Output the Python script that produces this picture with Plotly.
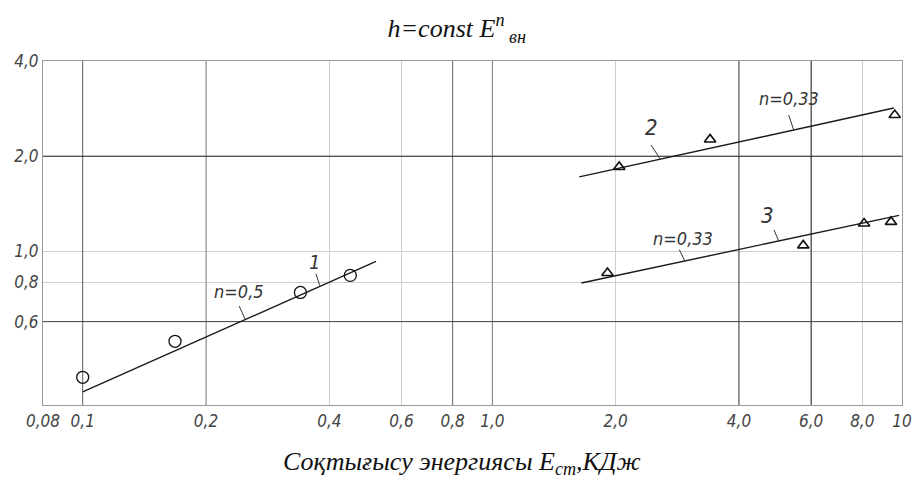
import numpy as np
import plotly.graph_objects as go

# ---------------- data ----------------
# Series 1 (circles)
s1_x = [0.10, 0.168, 0.340, 0.450]
s1_y = [0.40, 0.52, 0.742, 0.84]
fit1_x = [0.10, 0.52]
fit1_y = [0.36, 0.93]

# Series 2 (triangles, upper)
s2_x = [2.04, 3.40, 9.6]
s2_y = [1.85, 2.26, 2.70]
fit2_x = [1.63, 9.55]
fit2_y = [1.72, 2.84]

# Series 3 (triangles, lower)
s3_x = [1.91, 5.74, 8.08, 9.4]
s3_y = [0.855, 1.045, 1.225, 1.24]
fit3_x = [1.65, 9.84]
fit3_y = [0.795, 1.30]

# tick labels
x_tick_vals = [0.08, 0.1, 0.2, 0.4, 0.6, 0.8, 1.0, 2.0, 4.0, 6.0, 8.0, 10]
x_tick_text = ["0,08", "0,1", "0,2", "0,4", "0,6", "0,8", "1,0", "2,0", "4,0", "6,0", "8,0", "10"]
y_tick_vals = [0.6, 0.8, 1.0, 2.0, 4.0]
y_tick_text = ["0,6", "0,8", "1,0", "2,0", "4,0"]

# darker grid lines (value, colour)
x_dark_vals = [0.1, 0.2, 0.8, 1.0, 4.0, 6.0]
x_dark_cols = ["#666666", "#8a8a8a", "#6a6a6a", "#808080", "#444444", "#222222"]
y_dark_vals = [2.0, 0.6]
y_dark_cols = ["#222222", "#444444"]

# labels and their leader lines
lbl_text = ["n=0,5", "1", "2", "n=0,33", "3", "n=0,33"]
lbl_x = [0.241, 0.367, 2.44, 5.29, 4.70, 2.92]
lbl_y = [0.745, 0.925, 2.46, 3.04, 1.295, 1.10]
lbl_size = [18, 20, 22, 18, 22, 18]
lead_x0 = [0.241, 0.371, 2.44, 5.29, 4.87, 2.86]
lead_y0 = [0.672, 0.85, 2.17, 2.70, 1.17, 1.013]
lead_x1 = [0.249, 0.379, 2.57, 5.44, 5.00, 2.95]
lead_y1 = [0.612, 0.78, 1.96, 2.42, 1.079, 0.933]

x_range = [0.08, 10]
y_range = [0.327, 4.0]

TECH = "DejaVu Sans Condensed, Liberation Sans Narrow, Arial Narrow, sans-serif"
SERIF = "Liberation Serif, DejaVu Serif, serif"

fig = go.Figure()

for fx, fy in [(fit1_x, fit1_y), (fit2_x, fit2_y), (fit3_x, fit3_y)]:
    fig.add_trace(go.Scatter(x=fx, y=fy, mode="lines",
                             line=dict(color="#1a1a1a", width=1.4),
                             showlegend=False, hoverinfo="skip"))

for x0, y0, x1, y1 in zip(lead_x0, lead_y0, lead_x1, lead_y1):
    fig.add_trace(go.Scatter(x=[x0, x1], y=[y0, y1], mode="lines",
                             line=dict(color="#333333", width=1),
                             showlegend=False, hoverinfo="skip"))

fig.add_trace(go.Scatter(x=s1_x, y=s1_y, mode="markers", showlegend=False,
                         marker=dict(symbol="circle-open", size=12,
                                     color="#111111", line=dict(width=1.3))))
fig.add_trace(go.Scatter(x=s2_x, y=s2_y, mode="markers", showlegend=False,
                         marker=dict(symbol="triangle-up-open", size=10,
                                     color="#111111", line=dict(width=1.6))))
fig.add_trace(go.Scatter(x=s3_x, y=s3_y, mode="markers", showlegend=False,
                         marker=dict(symbol="triangle-up-open", size=10,
                                     color="#111111", line=dict(width=1.6))))

for v, c in zip(x_dark_vals, x_dark_cols):
    fig.add_shape(type="line", x0=v, x1=v, y0=y_range[0], y1=y_range[1],
                  xref="x", yref="y", line=dict(color=c, width=1), layer="between")
for v, c in zip(y_dark_vals, y_dark_cols):
    fig.add_shape(type="line", y0=v, y1=v, x0=x_range[0], x1=x_range[1],
                  xref="x", yref="y", line=dict(color=c, width=1), layer="between")

for t, x, y, s in zip(lbl_text, lbl_x, lbl_y, lbl_size):
    fig.add_annotation(x=np.log10(x), y=np.log10(y), xref="x", yref="y",
                       text="<i>" + t + "</i>", showarrow=False,
                       font=dict(family=TECH, size=s, color="#333333"))

fig.add_annotation(x=0.488, y=-0.169, xref="paper", yref="paper",
                   xanchor="center", yanchor="middle",
                   text="<i>Соқтығысу энергиясы E<sub>ст</sub>,КДж</i>",
                   showarrow=False, font=dict(family=SERIF, size=26, color="#111111"))

# page body adds an 8 px offset; figure is sized to fit the window
fig.update_layout(
    width=914, height=478,
    margin=dict(l=35, r=20, t=53, b=81),
    paper_bgcolor="white", plot_bgcolor="white",
    title=dict(text="<i>h=const E<sup>n</sup><sub> вн</sub></i>",
               x=0.491, xanchor="center", y=0.958, yanchor="middle",
               font=dict(family=SERIF, size=26, color="#111111")),
    xaxis=dict(type="log", range=[np.log10(x_range[0]), np.log10(x_range[1])],
               tickvals=x_tick_vals, ticktext=x_tick_text, automargin=False,
               showgrid=True, gridcolor="#cfcfcf", gridwidth=1,
               showline=True, linecolor="#9a9a9a", linewidth=1.2, mirror=True,
               ticks="", zeroline=False,
               tickfont=dict(family=TECH, size=17, color="#444444", style="italic")),
    yaxis=dict(type="log", range=[np.log10(y_range[0]), np.log10(y_range[1])],
               tickvals=y_tick_vals, ticktext=y_tick_text, automargin=False,
               showgrid=True, gridcolor="#cfcfcf", gridwidth=1,
               showline=True, linecolor="#9a9a9a", linewidth=1.2, mirror=True,
               ticks="", zeroline=False,
               tickfont=dict(family=TECH, size=17, color="#444444", style="italic")),
)

fig.write_html("out.html")
